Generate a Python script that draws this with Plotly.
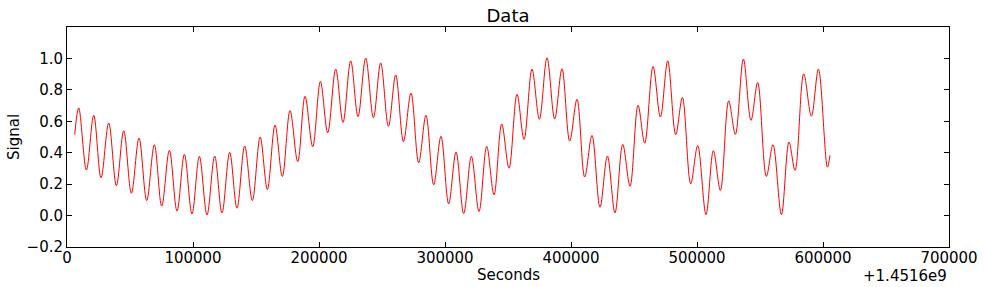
import plotly.graph_objects as go

# Seconds (relative to offset 1.4516e9) at successive extrema of the signal
seconds = [6100, 9290, 15400, 21200, 27000, 33100, 39200, 45000, 51100, 57150,
           63250, 69350, 75150, 81250, 87300, 93150, 99200, 105050, 111100, 117200,
           123000, 129100, 134900, 141000, 147100, 153300, 159000, 165100, 170900, 177000,
           183100, 188900, 195000, 201100, 206900, 213250, 219050, 225150, 230950, 237050,
           243200, 248950, 255100, 260900, 267000, 273000, 279100, 284900, 291000, 296800,
           302900, 308750, 314850, 320950, 327000, 333100, 338900, 345000, 350800, 357150,
           362700, 369050, 374900, 380950, 387050, 392850, 398950, 404750, 410850, 416650,
           423000, 428900, 434900, 441050, 446850, 453200, 458500, 465100, 470950, 476750,
           483100, 488400, 495000, 500550, 507150, 513000, 518550, 525150, 530450, 536800,
           542850, 548150, 555050, 560300, 567000, 573000, 577800, 584700, 590800, 596350,
           603500, 605550]
signal = [0.515, 0.685, 0.29, 0.638, 0.24, 0.589, 0.19, 0.54, 0.142, 0.493,
          0.096, 0.451, 0.06, 0.415, 0.028, 0.389, 0.01, 0.377, 0.004, 0.379,
          0.017, 0.402, 0.047, 0.442, 0.096, 0.5, 0.166, 0.576, 0.249, 0.668,
          0.343, 0.759, 0.438, 0.853, 0.527, 0.932, 0.593, 0.985, 0.63, 1.002,
          0.623, 0.972, 0.568, 0.895, 0.47, 0.78, 0.336, 0.638, 0.196, 0.504,
          0.075, 0.404, 0.013, 0.377, 0.026, 0.44, 0.132, 0.583, 0.302, 0.772,
          0.485, 0.932, 0.613, 1.004, 0.615, 0.934, 0.474, 0.74, 0.245, 0.51,
          0.053, 0.379, 0.017, 0.453, 0.187, 0.702, 0.461, 0.949, 0.627, 0.985,
          0.515, 0.751, 0.202, 0.445, 0.006, 0.413, 0.16, 0.73, 0.517, 0.996,
          0.606, 0.847, 0.249, 0.451, 0.006, 0.468, 0.287, 0.902, 0.632, 0.932,
          0.308, 0.383]

x_ticks = [0, 100000, 200000, 300000, 400000, 500000, 600000, 700000]
x_tick_labels = ["0", "100000", "200000", "300000", "400000", "500000", "600000", "700000"]
y_ticks = [-0.2, 0.0, 0.2, 0.4, 0.6, 0.8, 1.0]
y_tick_labels = ["\u22120.2", "0.0", "0.2", "0.4", "0.6", "0.8", "1.0"]
offset_label = "+1.4516e9"

FONT = "DejaVu Sans"
TXT = "#000000"

fig = go.Figure()
fig.add_trace(go.Scatter(
    x=seconds, y=signal, mode="lines",
    line=dict(color="#ff0000", width=1, shape="spline", smoothing=1.0),
    showlegend=False, hoverinfo="skip",
))

axis_common = dict(
    showline=True, linecolor="#000000", linewidth=1, mirror="ticks",
    ticks="inside", ticklen=5, tickwidth=1, tickcolor="#000000",
    showgrid=False, zeroline=False, automargin=False,
    tickfont=dict(family=FONT, size=15, color=TXT),
)

fig.update_layout(
    width=984, height=287,
    margin=dict(l=67, r=35, t=27, b=40, autoexpand=False),
    paper_bgcolor="white", plot_bgcolor="white",
    font=dict(family=FONT, size=15, color=TXT),
    title=dict(text="Data", x=0.5, xanchor="center", xref="paper",
               y=(287 - 16) / 287, yref="container", yanchor="middle",
               font=dict(family=FONT, size=18, color=TXT)),
    xaxis=dict(range=[0, 700000], tickvals=x_ticks, ticktext=x_tick_labels,
               ticklabelstandoff=-3, **axis_common),
    yaxis=dict(range=[-0.2, 1.2], tickvals=y_ticks, ticktext=y_tick_labels,
               **axis_common),
)

# axis titles and offset text as annotations for exact placement
fig.add_annotation(text="Seconds", xref="paper", yref="paper",
                   x=0.5, y=0, xanchor="center", yanchor="middle", yshift=-(275 - 247),
                   showarrow=False, font=dict(family=FONT, size=15, color=TXT))
fig.add_annotation(text="Signal", xref="paper", yref="paper", textangle=-90,
                   x=0, y=0.5, xanchor="center", yanchor="middle", xshift=-(67 - 14),
                   showarrow=False, font=dict(family=FONT, size=15, color=TXT))
fig.add_annotation(text=offset_label, xref="paper", yref="paper",
                   x=1.0, y=0, xanchor="right", yanchor="middle", yshift=-(276 - 247),
                   showarrow=False, font=dict(family=FONT, size=15, color=TXT))

fig.write_html("out.html")
